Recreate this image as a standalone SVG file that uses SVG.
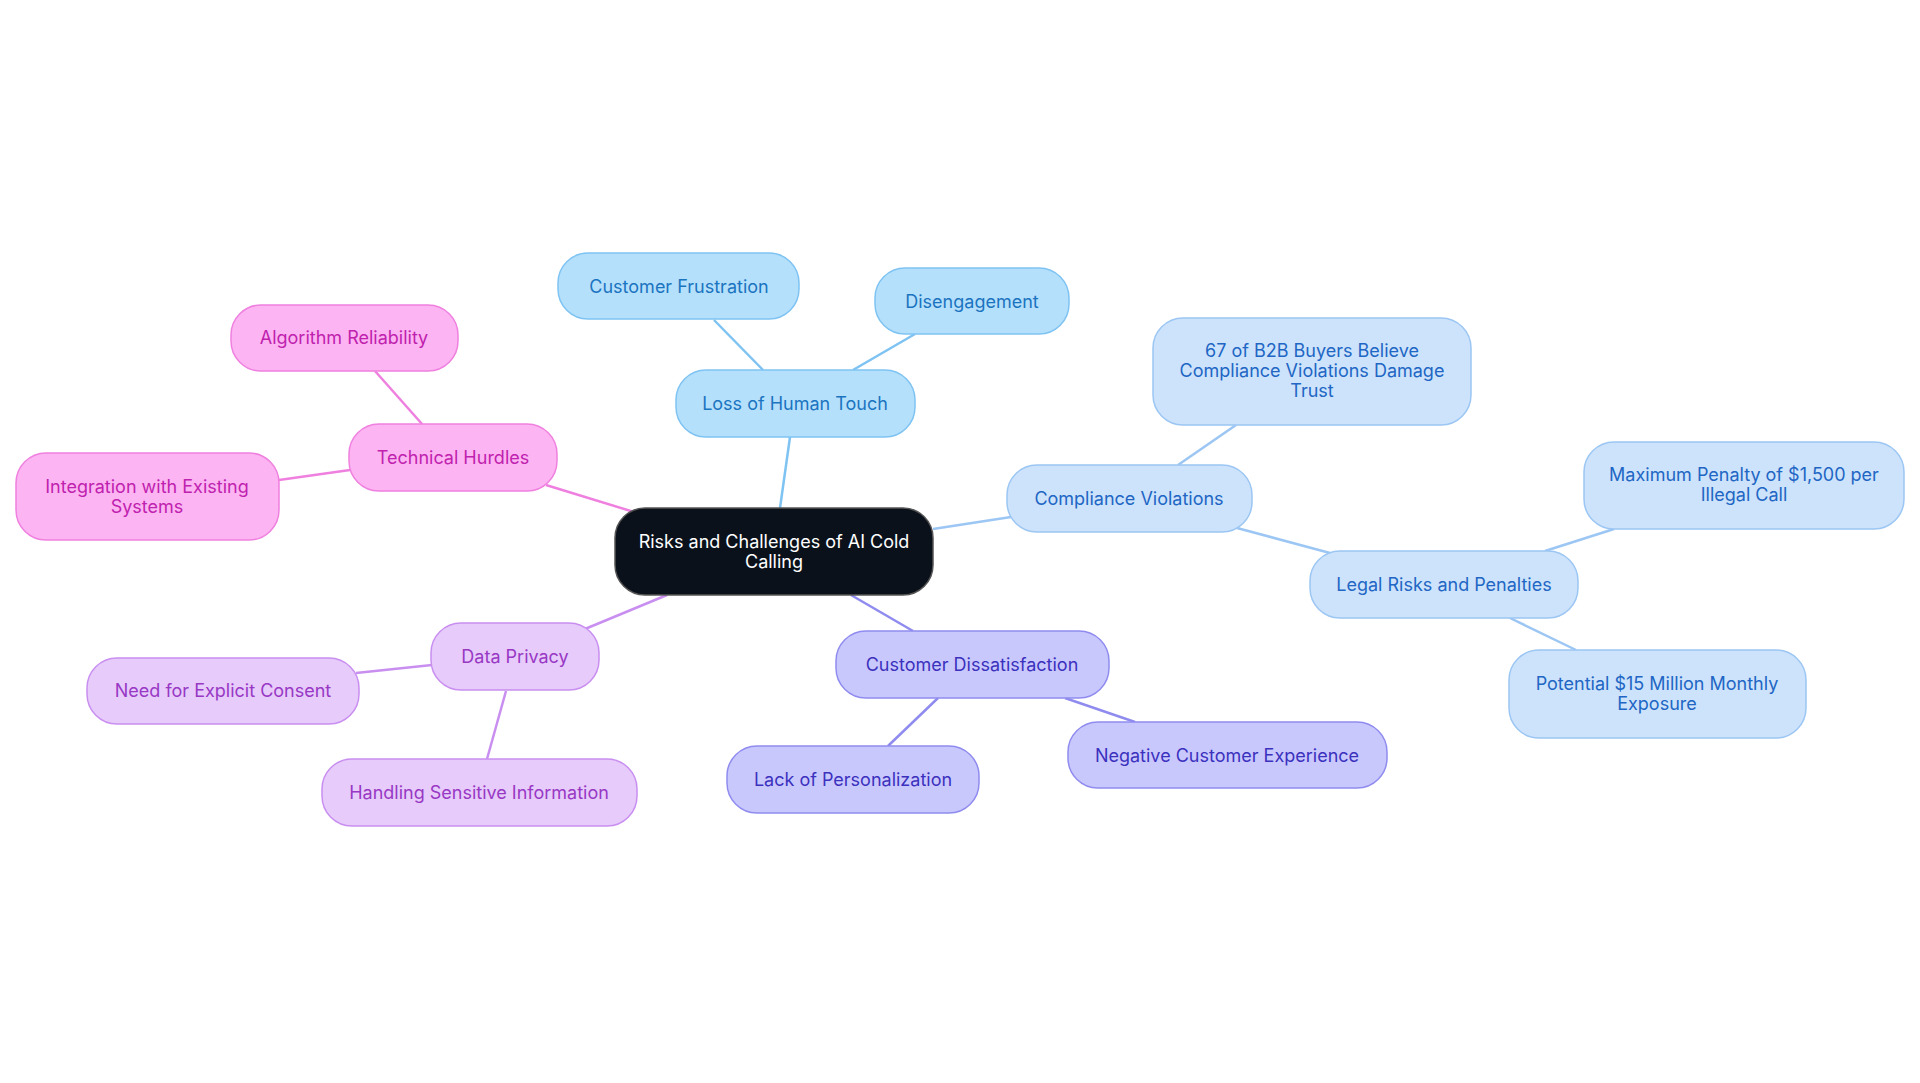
<svg xmlns="http://www.w3.org/2000/svg" width="1920" height="1083" viewBox="0 0 1920 1083">
<style>
text{font-family:Inter,"Noto Sans",sans-serif;font-size:18px;text-anchor:middle;dominant-baseline:central}
.b rect{fill:#b5e0fc;stroke:#7ec3f2}.b text{fill:#1b74bf}
.c rect{fill:#cde3fb;stroke:#9cc6f3}.c text{fill:#2166c4}
.p rect{fill:#c9c8fd;stroke:#908cef}.p text{fill:#3b31bd}
.l rect{fill:#e7cbfb;stroke:#c98ff0}.l text{fill:#9838c4}
.k rect{fill:#fdb4f3;stroke:#ef80df}.k text{fill:#bf22ae}
rect{stroke-width:1.5}
#conn line{stroke-width:2.5}
</style>
<rect width="1920" height="1083" fill="#fff"/>
<g id="conn">
<line x1="780" y1="508" x2="790" y2="437" stroke="#7ec3f2"/>
<line x1="763" y1="370" x2="714" y2="320" stroke="#7ec3f2"/>
<line x1="853" y1="370" x2="915" y2="334" stroke="#7ec3f2"/>
<line x1="933" y1="529" x2="1011" y2="517" stroke="#9cc6f3"/>
<line x1="1178" y1="465" x2="1236" y2="425" stroke="#9cc6f3"/>
<line x1="1237" y1="528" x2="1330" y2="553" stroke="#9cc6f3"/>
<line x1="1545" y1="551" x2="1614" y2="529" stroke="#9cc6f3"/>
<line x1="1510" y1="618" x2="1576" y2="650" stroke="#9cc6f3"/>
<line x1="851" y1="595" x2="913" y2="631" stroke="#908cef"/>
<line x1="938" y1="698" x2="888" y2="746" stroke="#908cef"/>
<line x1="1065" y1="698" x2="1135" y2="722" stroke="#908cef"/>
<line x1="667" y1="595" x2="585" y2="629" stroke="#c98ff0"/>
<line x1="432" y1="665" x2="356" y2="673" stroke="#c98ff0"/>
<line x1="506" y1="691" x2="487" y2="759" stroke="#c98ff0"/>
<line x1="634" y1="512" x2="546" y2="485" stroke="#ef80df"/>
<line x1="422" y1="424" x2="375" y2="371" stroke="#ef80df"/>
<line x1="350" y1="470" x2="279" y2="480" stroke="#ef80df"/>
</g>
<g id="root"><rect x="615" y="508" width="318" height="87" rx="30" fill="#0b111b" stroke="#555"/><text x="774" y="541" fill="#fff">Risks and Challenges of AI Cold</text><text x="774" y="561" fill="#fff">Calling</text></g>
<g id="loss" class="b"><rect x="676" y="370" width="239" height="67" rx="30"/><text x="795" y="403">Loss of Human Touch</text></g>
<g id="cf" class="b"><rect x="558" y="253" width="241" height="66" rx="30"/><text x="679" y="286">Customer Frustration</text></g>
<g id="dis" class="b"><rect x="875" y="268" width="194" height="66" rx="30"/><text x="972" y="301">Disengagement</text></g>
<g id="cv" class="c"><rect x="1007" y="465" width="245" height="67" rx="30"/><text x="1129" y="498">Compliance Violations</text></g>
<g id="b2b" class="c"><rect x="1153" y="318" width="318" height="107" rx="30"/><text x="1312" y="350">67 of B2B Buyers Believe</text><text x="1312" y="370">Compliance Violations Damage</text><text x="1312" y="390">Trust</text></g>
<g id="legal" class="c"><rect x="1310" y="551" width="268" height="67" rx="30"/><text x="1444" y="584">Legal Risks and Penalties</text></g>
<g id="max" class="c"><rect x="1584" y="442" width="320" height="87" rx="30"/><text x="1744" y="474">Maximum Penalty of $1,500 per</text><text x="1744" y="494">Illegal Call</text></g>
<g id="pot" class="c"><rect x="1509" y="650" width="297" height="88" rx="30"/><text x="1657" y="683">Potential $15 Million Monthly</text><text x="1657" y="703">Exposure</text></g>
<g id="cd" class="p"><rect x="836" y="631" width="273" height="67" rx="30"/><text x="972" y="664">Customer Dissatisfaction</text></g>
<g id="lack" class="p"><rect x="727" y="746" width="252" height="67" rx="30"/><text x="853" y="779">Lack of Personalization</text></g>
<g id="neg" class="p"><rect x="1068" y="722" width="319" height="66" rx="30"/><text x="1227" y="755">Negative Customer Experience</text></g>
<g id="dp" class="l"><rect x="431" y="623" width="168" height="67" rx="30"/><text x="515" y="656">Data Privacy</text></g>
<g id="need" class="l"><rect x="87" y="658" width="272" height="66" rx="30"/><text x="223" y="690">Need for Explicit Consent</text></g>
<g id="hand" class="l"><rect x="322" y="759" width="315" height="67" rx="30"/><text x="479" y="792">Handling Sensitive Information</text></g>
<g id="th" class="k"><rect x="349" y="424" width="208" height="67" rx="30"/><text x="453" y="457">Technical Hurdles</text></g>
<g id="alg" class="k"><rect x="231" y="305" width="227" height="66" rx="30"/><text x="344" y="337">Algorithm Reliability</text></g>
<g id="int" class="k"><rect x="16" y="453" width="263" height="87" rx="30"/><text x="147" y="486">Integration with Existing</text><text x="147" y="506">Systems</text></g>
</svg>
